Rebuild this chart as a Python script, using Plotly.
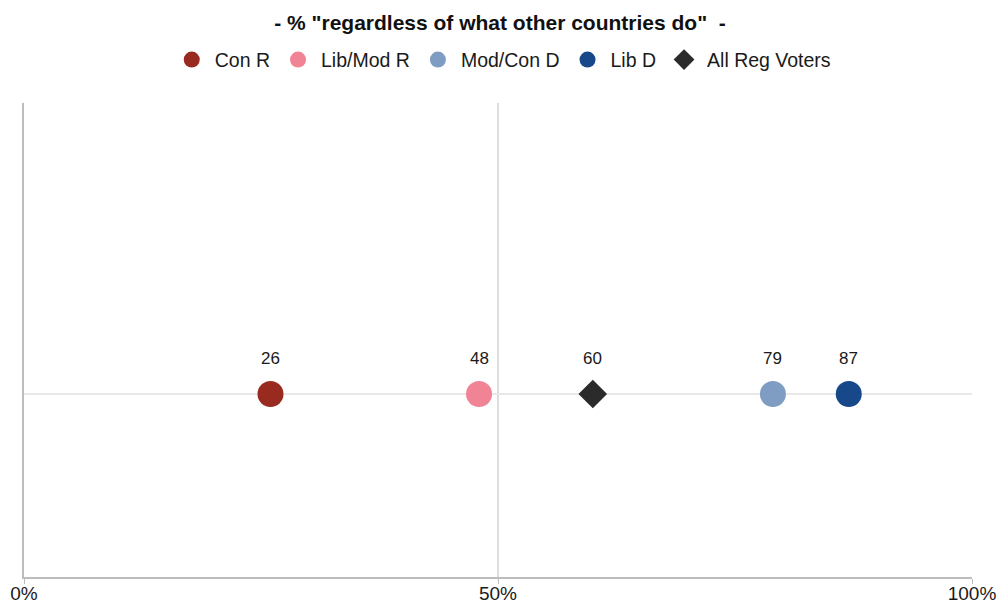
import plotly.graph_objects as go

groups = ["Con R", "Lib/Mod R", "Mod/Con D", "Lib D", "All Reg Voters"]
values = [26, 48, 79, 87, 60]
colors = ["#992a1f", "#f08494", "#7f9dc2", "#16488a", "#2b2b2b"]
symbols = ["circle", "circle", "circle", "circle", "diamond"]
sizes = [26, 26, 26, 26, 22]
tick_vals = [0, 50, 100]
tick_text = ["0%", "50%", "100%"]
subtitle = '- % "regardless of what other countries do"  -'

fig = go.Figure()
for g, v, c, s, sz in zip(groups, values, colors, symbols, sizes):
    fig.add_trace(go.Scatter(
        x=[v], y=[0], mode="markers", name=g,
        marker=dict(color=c, symbol=s, size=sz, line=dict(width=0)),
        hoverinfo="x+name",
    ))
    fig.add_annotation(x=v, y=0, text=str(v), showarrow=False, yshift=36,
                       font=dict(size=17, color="#1a1a1a"))

fig.update_layout(
    width=1000, height=605,
    margin=dict(l=24, r=28, t=103, b=28, autoexpand=False),
    paper_bgcolor="white", plot_bgcolor="white",
    font=dict(family="Liberation Sans, Arial, sans-serif", color="#1a1a1a"),
    title=dict(text="<b>" + subtitle + "</b>", x=0.5, xanchor="center",
               y=0.963, yanchor="middle", font=dict(size=21, color="#111")),
    legend=dict(orientation="h", x=0.505, xanchor="center", y=1.091, yanchor="middle",
                font=dict(size=19.5), itemsizing="trace", itemwidth=36,
                traceorder="normal"),
    showlegend=True,
    xaxis=dict(range=[0, 100], tickvals=tick_vals, ticktext=tick_text, automargin=False,
               showgrid=True, gridcolor="#dedede", gridwidth=1.5,
               zeroline=False, showline=True, linecolor="#bdbdbd", linewidth=1.5,
               ticks="outside", ticklen=5, tickcolor="#bdbdbd", ticklabelstandoff=-7,
               tickfont=dict(size=19, color="#1a1a1a"), fixedrange=True),
    yaxis=dict(range=[-0.386, 0.614], showticklabels=False, tickvals=[0], automargin=False,
               showgrid=True, gridcolor="#e8e8e8", gridwidth=1.5,
               zeroline=False, showline=True, linecolor="#bdbdbd", linewidth=1.5,
               fixedrange=True),
)

fig.write_html("out.html", config={"displayModeBar": False},
               post_script="document.body.style.margin='0px';document.body.style.overflow='hidden';")
